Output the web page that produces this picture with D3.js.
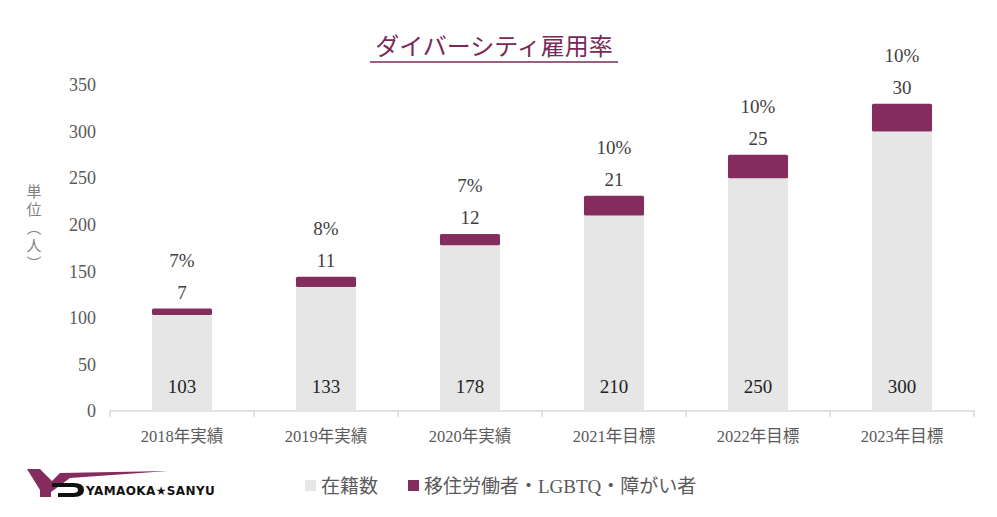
<!DOCTYPE html>
<html><head><meta charset="utf-8">
<script src="https://cdn.jsdelivr.net/npm/d3@7"></script>
<style>
html,body{margin:0;padding:0;background:#fff;}
svg{display:block;}
text{font-family:"Liberation Serif","DejaVu Serif","Noto Sans CJK JP",serif;}
</style></head>
<body>
<svg id="c" width="997" height="517"></svg>
<script>
const categories = ["2018年実績","2019年実績","2020年実績","2021年目標","2022年目標","2023年目標"];
const enrolled = [103,133,178,210,250,300];
const diverse = [7,11,12,21,25,30];
const rates = ["7%","8%","7%","10%","10%","10%"];
const yTicks = [0,50,100,150,200,250,300,350];
const seriesNames = ["在籍数","移住労働者・LGBTQ・障がい者"];
const colors = ["#e6e6e6","#852c5f"];

const svg = d3.select("#c");
const x = d3.scaleBand().domain(categories).range([110,974]).paddingInner(0.583).paddingOuter(0.2915);
const y = d3.scaleLinear().domain([0,350]).range([411,85]);

// title
svg.append("text").attr("x",494).attr("y",55).attr("text-anchor","middle")
  .attr("font-size",24).attr("fill","#7a2a59")
  .style("font-family","'Noto Sans CJK JP',sans-serif")
  .text("ダイバーシティ雇用率");
svg.append("line").attr("x1",370).attr("x2",618).attr("y1",62).attr("y2",62)
  .attr("stroke","#7a2a59").attr("stroke-width",1.5);

// y axis labels
const ya = svg.append("g").attr("transform","translate(96,0)")
  .call(d3.axisLeft(y).tickValues(yTicks).tickSize(0).tickPadding(0));
ya.select(".domain").remove();
ya.selectAll("text").attr("font-size",18).attr("fill","#595959")
  .style("font-family","'Liberation Serif',serif");

// y unit label (vertical)
svg.append("text").attr("x",34).attr("y",184)
  .attr("font-size",15).attr("fill","#7f7f7f")
  .style("writing-mode","vertical-rl")
  .style("font-family","'Noto Sans CJK JP',sans-serif")
  .attr("letter-spacing",3)
  .text("単位（人）");

// x axis
const xa = svg.append("g").attr("transform","translate(0,411)");
xa.append("line").attr("x1",110).attr("x2",975).attr("y1",0).attr("y2",0).attr("stroke","#d9d9d9").attr("stroke-width",1.5);
const bounds = d3.range(categories.length+1).map(i=>110+i*x.step());
xa.selectAll(".tk").data(bounds).join("line").attr("x1",d=>d).attr("x2",d=>d).attr("y1",0).attr("y2",6)
  .attr("stroke","#d9d9d9").attr("stroke-width",1.5);
xa.selectAll(".cl").data(categories).join("text")
  .attr("x",d=>x(d)+x.bandwidth()/2).attr("y",31).attr("text-anchor","middle")
  .attr("font-size",16.5).attr("fill","#595959").text(d=>d);

// bars
const g = svg.append("g");
g.selectAll(".b0").data(categories).join("rect")
  .attr("x",d=>x(d)).attr("width",x.bandwidth())
  .attr("y",(d,i)=>y(enrolled[i])).attr("height",(d,i)=>y(0)-y(enrolled[i]))
  .attr("fill",colors[0]);
g.selectAll(".b1").data(categories).join("rect")
  .attr("x",d=>x(d)).attr("width",x.bandwidth())
  .attr("y",(d,i)=>y(enrolled[i]+diverse[i])).attr("height",(d,i)=>y(enrolled[i])-y(enrolled[i]+diverse[i]))
  .attr("fill",colors[1]).attr("rx",1.5);

// labels
g.selectAll(".l0").data(categories).join("text")
  .attr("x",d=>x(d)+x.bandwidth()/2).attr("y",393).attr("text-anchor","middle")
  .attr("font-size",19).attr("fill","#222").text((d,i)=>enrolled[i]);
g.selectAll(".l1").data(categories).join("text")
  .attr("x",d=>x(d)+x.bandwidth()/2).attr("y",(d,i)=>y(enrolled[i]+diverse[i])-10).attr("text-anchor","middle")
  .attr("font-size",19).attr("fill","#404040").text((d,i)=>diverse[i]);
g.selectAll(".l2").data(categories).join("text")
  .attr("x",d=>x(d)+x.bandwidth()/2).attr("y",(d,i)=>y(enrolled[i]+diverse[i])-42).attr("text-anchor","middle")
  .attr("font-size",19).attr("fill","#404040").text((d,i)=>rates[i]);

// legend
const lg = svg.append("g");
const lx = [305,408];
seriesNames.forEach((n,i)=>{
  lg.append("rect").attr("x",lx[i]).attr("y",480).attr("width",11).attr("height",11).attr("fill",colors[i]);
  lg.append("text").attr("x",lx[i]+16).attr("y",493).attr("font-size",19).attr("fill","#595959")
    .style("font-family","'Liberation Serif','Noto Sans CJK JP',serif").text(n);
});

// logo
const logo = svg.append("g");
logo.append("path").attr("d","M27,469 L40,469 L52,481 L60,473 L168,471 L70,478 L51,492 L51,497 L40,497 L40,490 Z").attr("fill","#852c5f");
logo.append("path").attr("d","M52,483 L74,483 Q84,483 84,490 Q84,497 74,497 L58,497 L58,493 L73,493 Q78,493 78,490 Q78,487 73,487 L52,487 Z").attr("fill","#111");
logo.append("text").attr("x",86).attr("y",495).attr("font-size",12).attr("font-weight","bold")
  .attr("fill","#111").attr("letter-spacing",0.4)
  .style("font-family","'DejaVu Sans',sans-serif").text("YAMAOKA★SANYU");
</script>
</body></html>
